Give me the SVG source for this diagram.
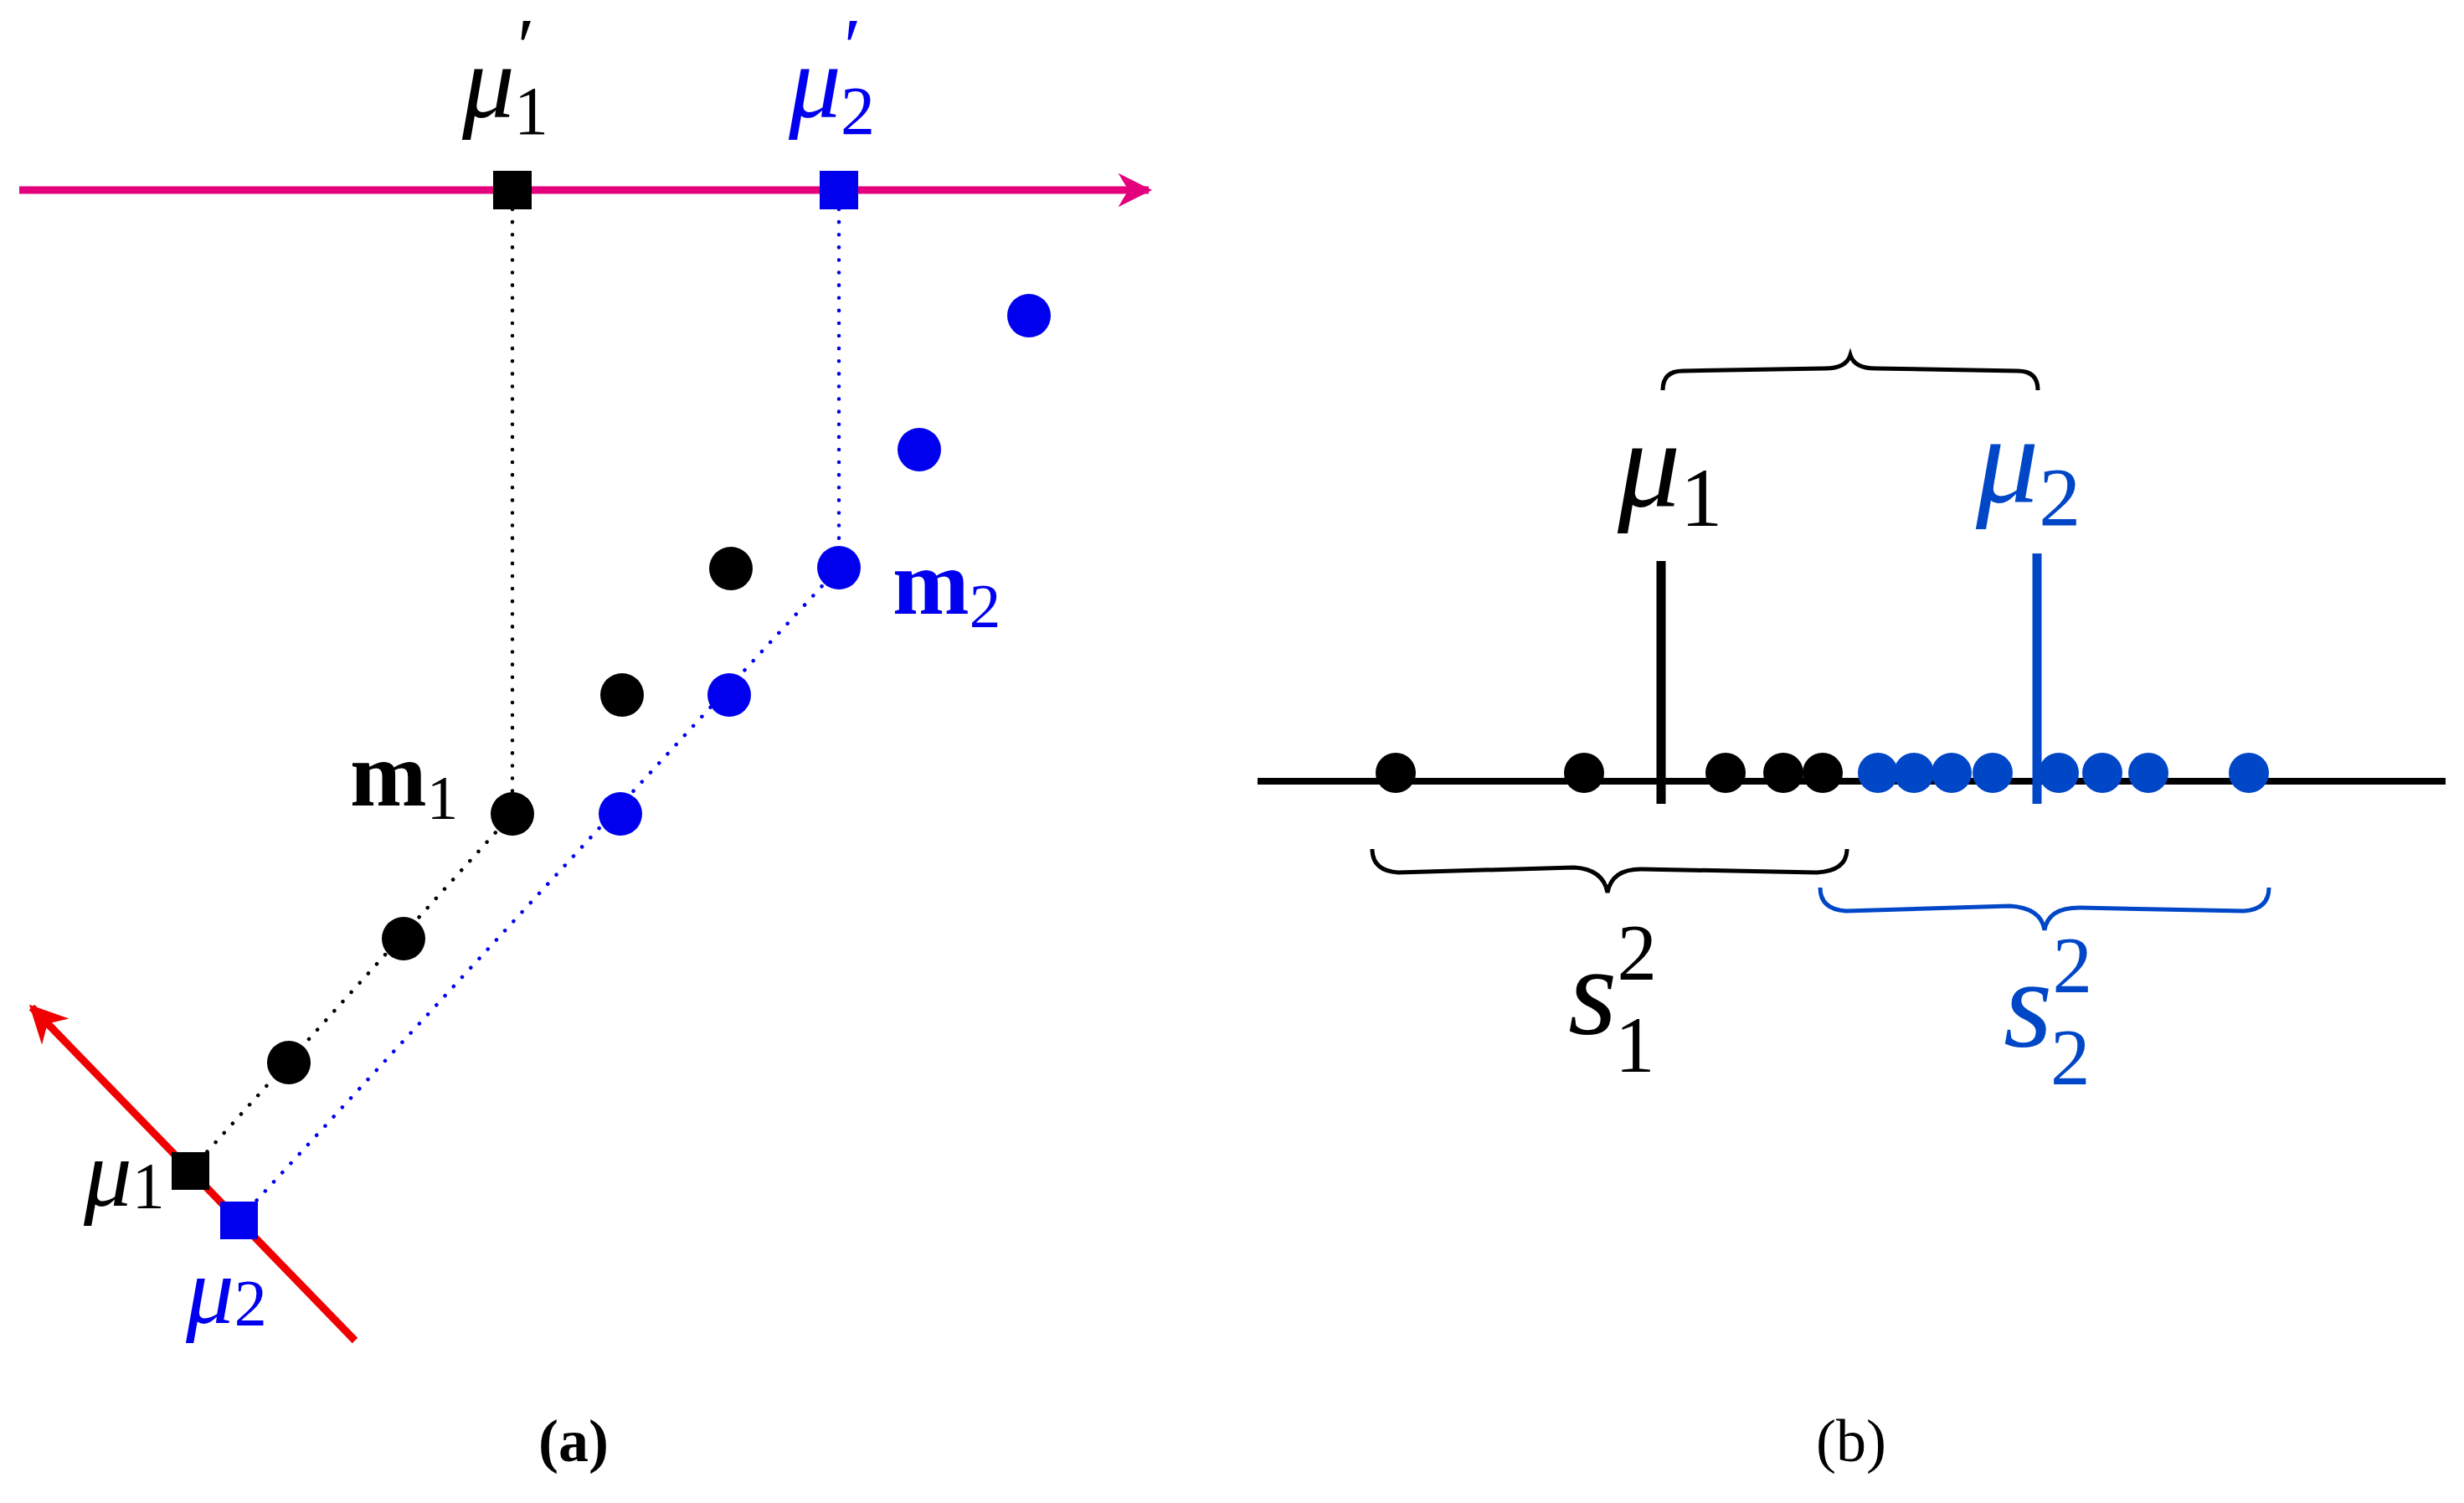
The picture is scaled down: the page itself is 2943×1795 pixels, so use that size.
<svg xmlns="http://www.w3.org/2000/svg" width="2943" height="1795" viewBox="0 0 2943 1795">
<style>
.t{font-family:"Liberation Serif","DejaVu Serif",serif}
.i{font-style:italic}
.b{font-weight:bold}
.k{fill:#000}
.bl{fill:#0000ee}
.bb{fill:#0047c8}
</style>
<defs>
<marker id="am" viewBox="0 0 10 10" refX="9" refY="5" markerWidth="6.5" markerHeight="4.5" orient="auto" markerUnits="strokeWidth"><path d="M0,0 L10,5 L0,10 L3,5z" fill="#e4007c"/></marker>
<marker id="ar" viewBox="0 0 10 10" refX="9" refY="5" markerWidth="6" markerHeight="5" orient="auto" markerUnits="strokeWidth"><path d="M0,0 L10,5 L0,10 L3,5z" fill="#f00000"/></marker>
</defs>
<rect width="2943" height="1795" fill="#fff"/>
<g id="connectors">
<line x1="23" y1="227" x2="1372" y2="227" stroke="#e4007c" stroke-width="9" marker-end="url(#am)"/>
<line x1="424" y1="1601" x2="38" y2="1203" stroke="#f00000" stroke-width="9" marker-end="url(#ar)"/>
<g fill="none" stroke-width="4.5" stroke-dasharray="0.1 15" stroke-linecap="round">
<line x1="612" y1="250" x2="612" y2="948" stroke="#000"/>
<line x1="612" y1="972" x2="227" y2="1398" stroke="#000"/>
<line x1="1002" y1="250" x2="1002" y2="657" stroke="#0000ee"/>
<line x1="1002" y1="678" x2="285" y2="1457" stroke="#0000ee"/>
</g>
</g>
<g id="pointsA">
<g class="k"><circle cx="873" cy="679" r="26"/><circle cx="743" cy="830" r="26"/><circle cx="612" cy="972" r="26"/><circle cx="482" cy="1121" r="26"/><circle cx="345" cy="1269" r="26"/></g>
<g class="bl"><circle cx="1229" cy="377" r="26"/><circle cx="1098" cy="537" r="26"/><circle cx="1002" cy="678" r="26"/><circle cx="871" cy="830" r="26"/><circle cx="741" cy="972" r="26"/></g>
</g>
<g id="squares">
<rect x="589" y="204" width="46" height="46" fill="#000"/>
<rect x="979" y="204" width="46" height="46" fill="#0000ee"/>
<rect x="205" y="1376" width="45" height="45" fill="#000"/>
<rect x="263" y="1435" width="45" height="45" fill="#0000ee"/>
</g>
<g id="labelsA" class="t">
<text x="552" y="140" font-size="125" class="i k">μ<tspan x="612" y="88" font-size="95">′</tspan><tspan x="614" y="160" font-size="82" font-style="normal">1</tspan></text>
<text x="942" y="140" font-size="125" class="i bl">μ<tspan x="1002" y="88" font-size="95">′</tspan><tspan x="1004" y="160" font-size="82" font-style="normal">2</tspan></text>
<text x="418" y="962" font-size="110" class="b k">m<tspan font-size="75" font-weight="normal" dy="16">1</tspan></text>
<text x="1066" y="733" font-size="110" class="b bl">m<tspan font-size="75" font-weight="normal" dy="16">2</tspan></text>
<text x="100" y="1440" font-size="115" class="i k">μ<tspan font-size="78" font-style="normal" dy="2">1</tspan></text>
<text x="222" y="1580" font-size="115" class="i bl">μ<tspan font-size="78" font-style="normal" dy="2">2</tspan></text>
<text x="685" y="1745" font-size="72" class="b k" text-anchor="middle">(a)</text>
</g>
<g id="axisB">
<line x1="1502" y1="933" x2="2921" y2="933" stroke="#000" stroke-width="8"/>
<line x1="1984" y1="670" x2="1984" y2="960" stroke="#000" stroke-width="11"/>
<line x1="2433" y1="661" x2="2433" y2="960" stroke="#0047c8" stroke-width="11"/>
</g>
<g id="pointsB">
<g class="k"><circle cx="1667" cy="923" r="24"/><circle cx="1892" cy="923" r="24"/><circle cx="2061" cy="923" r="24"/><circle cx="2130" cy="923" r="24"/><circle cx="2177" cy="923" r="24"/></g>
<g class="bb"><circle cx="2243" cy="923" r="24"/><circle cx="2286" cy="923" r="24"/><circle cx="2331" cy="923" r="24"/><circle cx="2380" cy="923" r="24"/><circle cx="2459" cy="923" r="24"/><circle cx="2511" cy="923" r="24"/><circle cx="2566" cy="923" r="24"/><circle cx="2686" cy="923" r="24"/></g>
</g>
<g id="braces" fill="none" stroke-width="5">
<path d="M1986,466 Q1986,443 2010,443 L2180,440 Q2205,440 2210,424 Q2215,440 2240,440 L2410,443 Q2434,443 2434,466" stroke="#000"/>
<path d="M1639,1014 Q1639,1040 1670,1042 L1880,1036 Q1915,1038 1920,1066 Q1925,1038 1960,1038 L2170,1042 Q2206,1040 2206,1014" stroke="#000"/>
<path d="M2174,1060 Q2174,1086 2205,1088 L2400,1082 Q2438,1084 2442,1111 Q2446,1084 2484,1084 L2680,1088 Q2710,1086 2710,1060" stroke="#0047c8"/>
</g>
<g id="labelsB" class="t">
<text x="1932" y="605" font-size="150" class="i k">μ<tspan font-size="100" font-style="normal" dx="0" dy="23">1</tspan></text>
<text x="2360" y="600" font-size="150" class="i bb">μ<tspan font-size="100" font-style="normal" dx="0" dy="27">2</tspan></text>
<text x="1873" y="1235" font-size="150" class="i k">s<tspan font-size="95" font-style="normal" dy="-65">2</tspan><tspan font-size="95" font-style="normal" dx="-50" dy="110">1</tspan></text>
<text x="2393" y="1250" font-size="150" class="i bb">s<tspan font-size="95" font-style="normal" dy="-65">2</tspan><tspan font-size="95" font-style="normal" dx="-50" dy="110">2</tspan></text>
<text x="2211" y="1745" font-size="72" class="k" text-anchor="middle">(b)</text>
</g>
</svg>
